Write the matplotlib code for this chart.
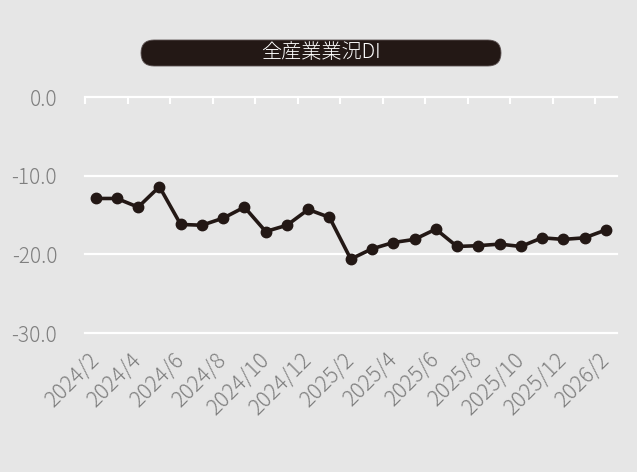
import matplotlib
matplotlib.use("Agg")
import matplotlib.pyplot as plt
from matplotlib.patches import FancyBboxPatch

plt.rcParams['font.family'] = ['Noto Sans CJK JP', 'DejaVu Sans']

months = ["2024/2", "2024/3", "2024/4", "2024/5", "2024/6", "2024/7", "2024/8",
          "2024/9", "2024/10", "2024/11", "2024/12", "2025/1", "2025/2", "2025/3",
          "2025/4", "2025/5", "2025/6", "2025/7", "2025/8", "2025/9", "2025/10",
          "2025/11", "2025/12", "2026/1", "2026/2"]
di_values = [-12.9, -12.9, -14.0, -11.4, -16.2, -16.3, -15.4, -14.0, -17.1, -16.3,
             -14.3, -15.3, -20.6, -19.3, -18.5, -18.1, -16.8, -19.0, -18.9, -18.7,
             -19.0, -17.9, -18.1, -17.9, -16.9]
title = "全産業業況DI"
y_ticks = [0, -10, -20, -30]
y_ticklabels = ["0.0", "-10.0", "-20.0", "-30.0"]

bg = "#e6e6e6"
dark = "#231815"
gray = "#7f7f7f"

fig = plt.figure(figsize=(6.37, 4.72), dpi=100, facecolor=bg)
ax = fig.add_axes([85/637, 1-333/472, (616.5-85)/637, (333-97)/472])
ax.set_facecolor(bg)

x = list(range(len(months)))
ax.plot(x, di_values, color=dark, lw=2.6, marker="o", ms=7.5, zorder=3,
        solid_joinstyle="round")

ax.set_xlim(-0.5, len(months) - 0.5)
ax.set_ylim(-30, 0)
ax.set_yticks(y_ticks)
ax.set_yticklabels(y_ticklabels, fontweight="light")
for yv in y_ticks:
    ax.axhline(yv, color="white", lw=1.6, zorder=1, clip_on=False)

for s in ax.spines.values():
    s.set_visible(False)

ax.tick_params(axis="y", length=0, pad=20, labelsize=15, labelcolor=gray)

# category labels every 2 months (centres), tick marks at category boundaries
ax.set_xticks(x[::2])
ax.set_xticklabels(months[::2], rotation=45, ha="right", va="center",
                   rotation_mode="anchor", fontsize=15.5, color=gray,
                   fontweight="light")
ax.tick_params(axis="x", which="major", length=0, pad=17)
ax.set_xticks([i - 0.5 for i in x[::2]], minor=True)
ax.tick_params(axis="x", which="minor", top=True, bottom=False, direction="in",
               length=5, width=1.5, color="white")

# title box
box = FancyBboxPatch((1.41, 4.06), 3.60, 0.26,
                     boxstyle="round,pad=0,rounding_size=0.13",
                     transform=fig.dpi_scale_trans, facecolor=dark,
                     edgecolor="#5a5050", lw=0.6)
fig.patches.append(box)
fig.text(3.21, 4.19, title, transform=fig.dpi_scale_trans, color="white",
         fontsize=14.5, ha="center", va="center", fontweight="light")

fig.savefig("out.png", dpi=100, facecolor=bg)
